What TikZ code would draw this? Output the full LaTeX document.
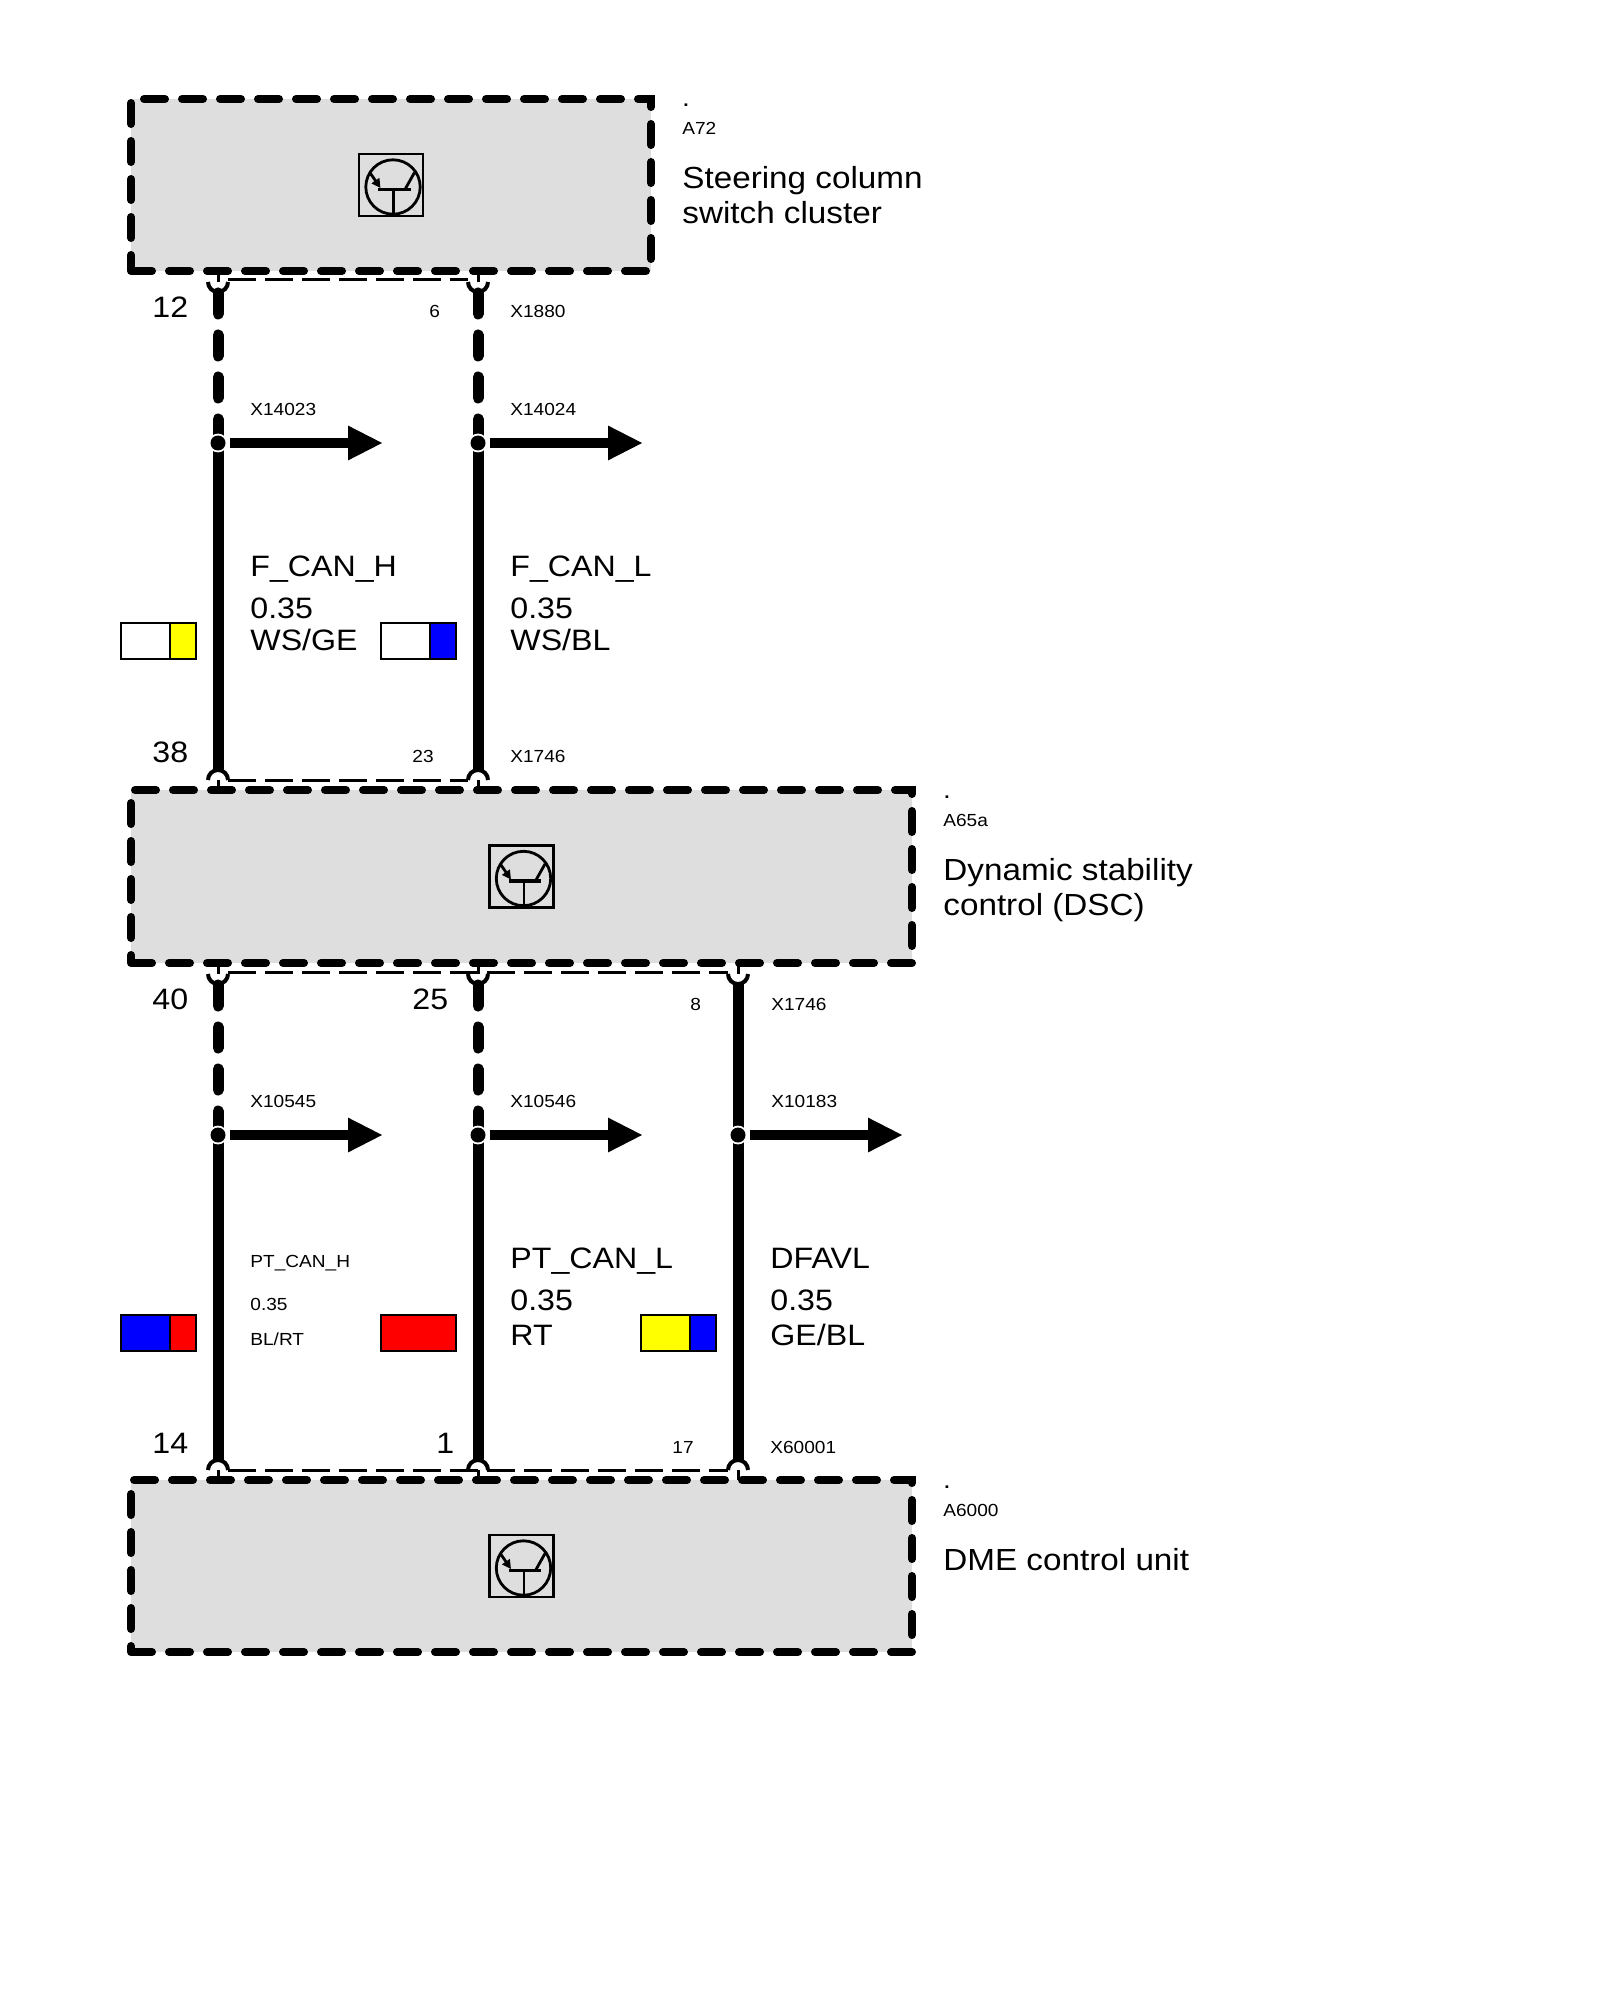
\documentclass[tikz,border=0pt]{standalone}
\usepackage{fontspec}
\setmainfont{Liberation Sans}[FakeStretch=1.09]
\usetikzlibrary{arrows.meta}
\definecolor{boxgray}{RGB}{222,222,222}
\definecolor{swyellow}{RGB}{255,255,0}
\definecolor{swblue}{RGB}{0,0,255}
\definecolor{swred}{RGB}{255,0,0}
\newcommand{\smallf}{\fontsize{8.75pt}{10pt}\selectfont}
\newcommand{\largef}{\fontsize{14.75pt}{17pt}\selectfont}
\newcommand{\namef}{\fontsize{15.25pt}{18pt}\selectfont}
\tikzset{
  compbox/.style={fill=boxgray, draw=black, line width=4pt, dash pattern=on 10.5pt off 8.5pt, line cap=round, inner sep=0pt, outer sep=0pt},
  wire/.style={line width=5.5pt},
  dwire/.style={line width=5.5pt, dash pattern=on 10.5pt off 10.5pt, line cap=round},
  housing/.style={line width=1.5pt, dash pattern=on 14pt off 4.5pt},
  stub/.style={line width=1.5pt},
  cup/.style={line width=2pt},
  sarrow/.style={line width=5pt, -{Triangle[length=17.5pt,width=16pt]}},
  lbl/.style={inner sep=0pt, anchor=base west},
  swatch/.style={draw=black, line width=1pt},
}
% top cup: x, box bottom y
\newcommand{\topcup}[2]{%
  \draw[stub] (#1,#2) -- (#1,#2+11);
  \draw[cup] (#1-10,#2+11) arc[start angle=180,end angle=360,radius=5pt];}
% bottom cup: x, box top y
\newcommand{\botcup}[2]{%
  \draw[stub] (#1,#2) -- (#1,#2-10);
  \draw[cup] (#1-10,#2-10) arc[start angle=180,end angle=0,radius=5pt];}
% splice dot: x, y
\newcommand{\splicedot}[2]{%
  \fill[white] (#1,#2) circle[radius=4.7pt];
  \fill[black] (#1,#2) circle[radius=3.75pt];}
% ECU icon at x,y
\newcommand{\ecuicon}[2]{%
  \draw[line width=1.25pt, fill=boxgray] (#1-32,#2-31) rectangle (#1+32,#2+31);
  \draw[line width=1.4pt] (#1+2,#2+2) circle[radius=13.6pt];
  \draw[line width=1.6pt] (#1-13,#2+4.5) -- (#1+19.5,#2+4.5);
  \draw[line width=1.4pt] (#1+2.5,#2+5) -- (#1+2.5,#2+29);
  \draw[line width=1.4pt, -{Triangle[length=4.5pt,width=4.5pt]}] (#1-20.5,#2-11.5) -- (#1-10.5,#2+3);
  \draw[line width=1.4pt] (#1+23.5,#2-12.5) -- (#1+14.5,#2+3.5);}
% two-colour swatch: wire x, dot y, left colour, right colour
\newcommand{\swatchbox}[4]{%
  \fill[#3] (#1-97,#2+180) rectangle (#1-48,#2+216);
  \fill[#4] (#1-48,#2+180) rectangle (#1-22,#2+216);
  \draw[swatch] (#1-48,#2+180) -- (#1-48,#2+216);
  \draw[swatch] (#1-97,#2+180) rectangle (#1-22,#2+216);}
% one-colour swatch: wire x, dot y, colour
\newcommand{\swatchone}[3]{%
  \draw[swatch, fill=#3] (#1-97,#2+180) rectangle (#1-22,#2+216);}
\begin{document}
\begin{tikzpicture}[x=0.5pt,y=-0.5pt]
\useasboundingbox (0,0) rectangle (1600,2000);
\fill[white] (0,0) rectangle (1600,2000);

% ---------- component boxes ----------
\node[compbox, minimum width=260pt, minimum height=86pt] (A72) at (391,185) {};
\node[compbox, minimum width=390.5pt, minimum height=86.5pt] (A65a) at (521.5,876.5) {};
\node[compbox, minimum width=390.5pt, minimum height=86pt] (A6000) at (521.5,1566) {};
\ecuicon{391}{185}
\ecuicon{521.5}{876.5}
\ecuicon{521.5}{1566}

% component labels
\node[lbl, font=\smallf] (dA72) at (683,107) {\textbf{.}};
\node[lbl, font=\smallf] (idA72) at (682,135) {A72};
\node[lbl, font=\namef] (nA72a) at (682,189) {Steering column};
\node[lbl, font=\namef] (nA72b) at (682,224) {switch cluster};
\node[lbl, font=\smallf] (dA65) at (944,798) {\textbf{.}};
\node[lbl, font=\smallf] (idA65) at (943,826) {A65a};
\node[lbl, font=\namef] (nA65a) at (943,880) {Dynamic stability};
\node[lbl, font=\namef] (nA65b) at (943,915) {control (DSC)};
\node[lbl, font=\smallf] (dA60) at (944,1488) {\textbf{.}};
\node[lbl, font=\smallf] (idA60) at (943,1516) {A6000};
\node[lbl, font=\namef] (nA60) at (943,1570) {DME control unit};

% ---------- section 1 (A72 -> A65a) ----------
\coordinate (s1a) at (218,443);
\coordinate (s1b) at (478,443);
\coordinate (t1a) at (383,443);
\coordinate (t1b) at (643,443);
\topcup{218}{271}
\topcup{478}{271}
\draw[housing] (228,280) -- (468,280);
\botcup{218}{790}
\botcup{478}{790}
\draw[housing] (228,780) -- (468,780);
\draw[dwire] (218,293) -- (s1a);
\draw[wire] (s1a) -- (218,770);
\draw[dwire] (478,293) -- (s1b);
\draw[wire] (s1b) -- (478,770);
\splicedot{218}{443}
\splicedot{478}{443}
\draw[sarrow] ([xshift=6pt]s1a) -- (t1a);
\draw[sarrow] ([xshift=6pt]s1b) -- (t1b);

\node[lbl, font=\largef] (p12) at (152,318) {12};
\node[lbl, font=\smallf] (p6) at (429,318) {6};
\node[lbl, font=\smallf] (x1880) at (510,318) {X1880};
\node[lbl, font=\smallf] (x14023) at (250,416) {X14023};
\node[lbl, font=\smallf] (x14024) at (510,416) {X14024};

\node[lbl, font=\largef] (l1a) at (250,576) {F\_CAN\_H};
\node[lbl, font=\largef] (l1b) at (250,618) {0.35};
\node[lbl, font=\largef] (l1c) at (250,650) {WS/GE};
\node[lbl, font=\largef] (l2a) at (510,576) {F\_CAN\_L};
\node[lbl, font=\largef] (l2b) at (510,618) {0.35};
\node[lbl, font=\largef] (l2c) at (510,650) {WS/BL};
\swatchbox{218}{443}{white}{swyellow}
\swatchbox{478}{443}{white}{swblue}

\node[lbl, font=\largef] (p38) at (152,762) {38};
\node[lbl, font=\smallf] (p23) at (412,762) {23};
\node[lbl, font=\smallf] (x1746a) at (510,762) {X1746};

% ---------- section 2 (A65a -> A6000) ----------
\coordinate (s2a) at (218,1135);
\coordinate (s2b) at (478,1135);
\coordinate (s2c) at (738,1135);
\coordinate (t2a) at (383,1135);
\coordinate (t2b) at (643,1135);
\coordinate (t2c) at (903,1135);
\topcup{218}{963}
\topcup{478}{963}
\topcup{738}{963}
\draw[housing] (228,972) -- (728,972);
\botcup{218}{1480}
\botcup{478}{1480}
\botcup{738}{1480}
\draw[housing] (228,1470) -- (728,1470);
\draw[dwire] (218,985) -- (s2a);
\draw[wire] (s2a) -- (218,1460);
\draw[dwire] (478,985) -- (s2b);
\draw[wire] (s2b) -- (478,1460);
\draw[wire] (738,984) -- (738,1460);
\splicedot{218}{1135}
\splicedot{478}{1135}
\splicedot{738}{1135}
\draw[sarrow] ([xshift=6pt]s2a) -- (t2a);
\draw[sarrow] ([xshift=6pt]s2b) -- (t2b);
\draw[sarrow] ([xshift=6pt]s2c) -- (t2c);

\node[lbl, font=\largef] (p40) at (152,1009) {40};
\node[lbl, font=\largef] (p25) at (412,1009) {25};
\node[lbl, font=\smallf] (p8) at (690,1010) {8};
\node[lbl, font=\smallf] (x1746b) at (771,1010) {X1746};
\node[lbl, font=\smallf] (x10545) at (250,1107) {X10545};
\node[lbl, font=\smallf] (x10546) at (510,1107) {X10546};
\node[lbl, font=\smallf] (x10183) at (771,1107) {X10183};

\node[lbl, font=\smallf] (l3a) at (250,1267) {PT\_CAN\_H};
\node[lbl, font=\smallf] (l3b) at (250,1310) {0.35};
\node[lbl, font=\smallf] (l3c) at (250,1345) {BL/RT};
\node[lbl, font=\largef] (l4a) at (510,1268) {PT\_CAN\_L};
\node[lbl, font=\largef] (l4b) at (510,1310) {0.35};
\node[lbl, font=\largef] (l4c) at (510,1345) {RT};
\node[lbl, font=\largef] (l5a) at (770,1268) {DFAVL};
\node[lbl, font=\largef] (l5b) at (770,1310) {0.35};
\node[lbl, font=\largef] (l5c) at (770,1345) {GE/BL};
\swatchbox{218}{1135}{swblue}{swred}
\swatchone{478}{1135}{swred}
\swatchbox{738}{1135}{swyellow}{swblue}

\node[lbl, font=\largef] (p14) at (152,1453) {14};
\node[lbl, font=\largef] (p1) at (436,1453) {1};
\node[lbl, font=\smallf] (p17) at (672,1453) {17};
\node[lbl, font=\smallf] (x60001) at (770,1453) {X60001};
\end{tikzpicture}
\end{document}
